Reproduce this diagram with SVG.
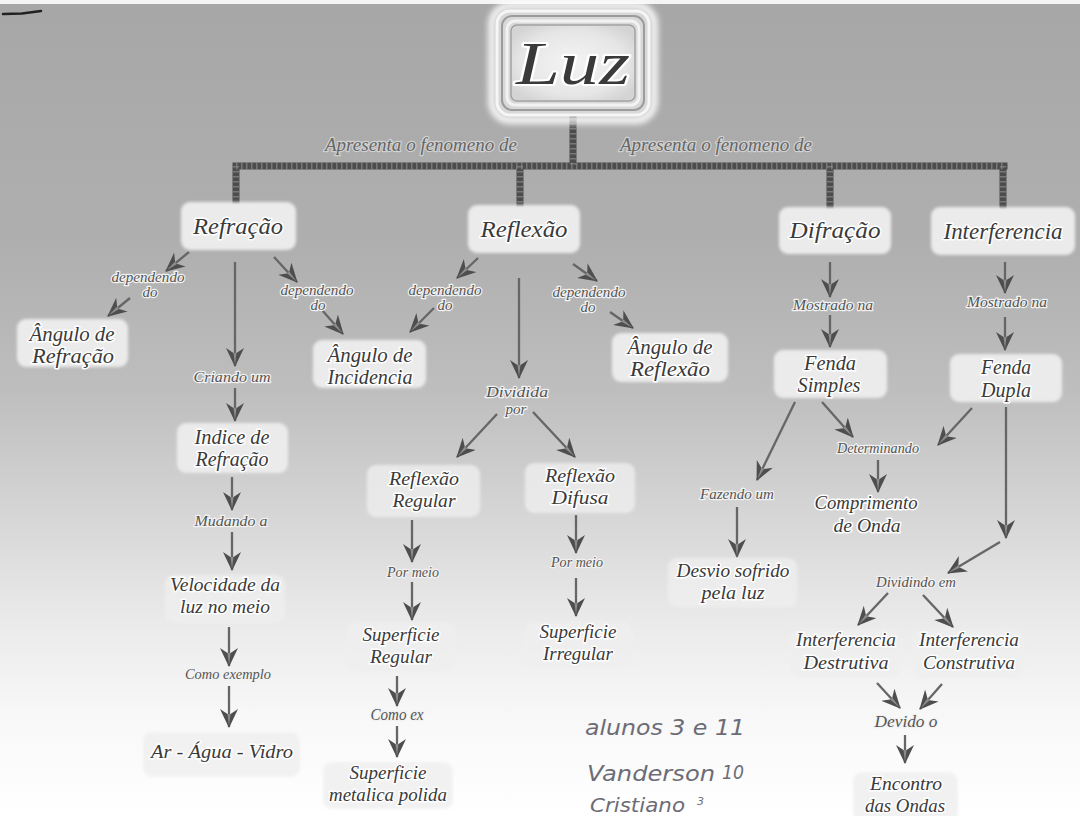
<svg xmlns="http://www.w3.org/2000/svg" width="1080" height="816" viewBox="0 0 1080 816">
  <defs>
    <linearGradient id="bg" x1="0" y1="0" x2="0" y2="1">
      <stop offset="0" stop-color="#a7a7a7"/>
      <stop offset="0.30" stop-color="#afafaf"/>
      <stop offset="0.48" stop-color="#bebebe"/>
      <stop offset="0.62" stop-color="#d4d4d4"/>
      <stop offset="0.76" stop-color="#eaeaea"/>
      <stop offset="0.88" stop-color="#f8f8f8"/>
      <stop offset="1" stop-color="#ffffff"/>
    </linearGradient>
    <radialGradient id="luzFill" cx="0.5" cy="0.5" r="0.6">
      <stop offset="0" stop-color="#f4f4f4"/>
      <stop offset="0.7" stop-color="#e6e6e6"/>
      <stop offset="1" stop-color="#d4d4d4"/>
    </radialGradient>
    <filter id="soft" x="-10%" y="-10%" width="120%" height="120%">
      <feGaussianBlur stdDeviation="1.4"/>
    </filter>
    <filter id="glow" x="-20%" y="-20%" width="140%" height="140%">
      <feGaussianBlur stdDeviation="3"/>
    </filter>
    <marker id="arrow" markerUnits="userSpaceOnUse" markerWidth="22" markerHeight="20" refX="18" refY="9" orient="auto">
      <path d="M0,0 L19,9 L0,18 L6,9 Z" fill="#4e4e4e"/>
      <path d="M5,7.5 L17,9 L5,10.5 Z" fill="#8c8c8c"/>
    </marker>
    <style>
      .box { fill: #ebebeb; filter: url(#soft); }
      .boxFaint { fill: #efefef; filter: url(#soft); opacity: 0.8; }
      .node { font-family: "Liberation Serif", serif; font-style: italic; fill: #3a3a3a;
              stroke: #ffffff; stroke-width: 3; stroke-linejoin: round; paint-order: stroke; text-anchor: middle; }
      .big { font-size: 24px; }
      .mid { font-size: 20px; }
      .sm { font-size: 19px; }
      .link { font-family: "Liberation Serif", serif; font-style: italic; font-size: 15px; fill: #555555;
              stroke: #f2f2f2; stroke-width: 2.4; stroke-linejoin: round; paint-order: stroke; text-anchor: middle; }
      .top { font-size: 19px; fill: #666666; stroke: #d2d2d2; }
      .edge { stroke: #666666; stroke-width: 2.3; fill: none; marker-end: url(#arrow); }
      .bar { stroke: #4c4c4c; fill: none; stroke-linecap: square; }
      .barTex { stroke: #8c8c8c; fill: none; stroke-dasharray: 1.5 3.5; opacity: 0.7; }
      .hand { font-family: "DejaVu Sans", sans-serif; font-style: italic; font-weight: 200; fill: #6c6c76; }
    </style>
  </defs>

  <!-- paper background -->
  <rect x="0" y="0" width="1080" height="816" fill="url(#bg)"/>
  <rect x="0" y="0" width="1080" height="4" fill="#f4f4f4"/>
  <path d="M3,14 L22,13.5 L41,11" stroke="#222222" stroke-width="2.5" fill="none" stroke-linecap="round"/>

  <!-- connectors -->
  <g id="connectors">
    <!-- main tree from Luz -->
    <path class="bar" stroke-width="7" d="M573,118 V166 M236,166 H1004 M236,166 V201 M520,166 V204 M830,166 V206 M1003,166 V206"/>
    <path class="barTex" stroke-width="7" d="M236,166 H1004"/>
    <path class="barTex" stroke-width="6" d="M573,118 V166 M236,166 V201 M520,166 V204 M830,166 V206 M1003,166 V206"/>

    <!-- Refração -->
    <line class="edge" x1="189" y1="252" x2="166" y2="271"/>
    <line class="edge" x1="130" y1="298" x2="108" y2="316"/>
    <line class="edge" x1="274" y1="257" x2="297" y2="282"/>
    <line class="edge" x1="322" y1="310" x2="343" y2="334"/>
    <line class="edge" x1="235" y1="262" x2="235" y2="366"/>
    <line class="edge" x1="235" y1="388" x2="235" y2="421"/>
    <line class="edge" x1="232" y1="477" x2="232" y2="510"/>
    <line class="edge" x1="232" y1="532" x2="232" y2="570"/>
    <line class="edge" x1="229" y1="627" x2="229" y2="666"/>
    <line class="edge" x1="229" y1="686" x2="229" y2="727"/>

    <!-- Reflexão -->
    <line class="edge" x1="478" y1="258" x2="457" y2="278"/>
    <line class="edge" x1="434" y1="308" x2="410" y2="332"/>
    <line class="edge" x1="573" y1="264" x2="597" y2="281"/>
    <line class="edge" x1="610" y1="312" x2="633" y2="328"/>
    <line class="edge" x1="519" y1="278" x2="519" y2="378"/>
    <line class="edge" x1="497" y1="414" x2="457" y2="457"/>
    <line class="edge" x1="533" y1="412" x2="575" y2="457"/>
    <line class="edge" x1="412" y1="520" x2="412" y2="562"/>
    <line class="edge" x1="412" y1="582" x2="412" y2="620"/>
    <line class="edge" x1="397" y1="676" x2="397" y2="706"/>
    <line class="edge" x1="397" y1="726" x2="397" y2="757"/>
    <line class="edge" x1="576" y1="515" x2="576" y2="553"/>
    <line class="edge" x1="576" y1="578" x2="576" y2="616"/>

    <!-- Difração -->
    <line class="edge" x1="830" y1="262" x2="830" y2="297"/>
    <line class="edge" x1="830" y1="315" x2="830" y2="347"/>
    <line class="edge" x1="795" y1="402" x2="757" y2="480"/>
    <line class="edge" x1="737" y1="507" x2="737" y2="557"/>
    <line class="edge" x1="822" y1="402" x2="853" y2="437"/>
    <line class="edge" x1="972" y1="408" x2="938" y2="445"/>
    <line class="edge" x1="878" y1="460" x2="878" y2="492"/>

    <!-- Interferencia -->
    <line class="edge" x1="1005" y1="262" x2="1005" y2="293"/>
    <line class="edge" x1="1005" y1="317" x2="1005" y2="350"/>
    <line class="edge" x1="1006" y1="407" x2="1006" y2="538"/>
    <line class="edge" x1="1000" y1="542" x2="948" y2="573"/>
    <line class="edge" x1="888" y1="593" x2="858" y2="625"/>
    <line class="edge" x1="923" y1="595" x2="953" y2="627"/>
    <line class="edge" x1="877" y1="683" x2="900" y2="708"/>
    <line class="edge" x1="942" y1="684" x2="920" y2="709"/>
    <line class="edge" x1="905" y1="735" x2="905" y2="763"/>
  </g>

  <!-- linking phrases -->
  <g id="links">
    <text class="link top" x="421" y="151" textLength="192" lengthAdjust="spacingAndGlyphs">Apresenta o fenomeno de</text>
    <text class="link top" x="716" y="151" textLength="192" lengthAdjust="spacingAndGlyphs">Apresenta o fenomeno de</text>

    <text class="link" x="148" y="282" textLength="73" lengthAdjust="spacingAndGlyphs">dependendo</text>
    <text class="link" x="150" y="297">do</text>
    <text class="link" x="317" y="295" textLength="73" lengthAdjust="spacingAndGlyphs">dependendo</text>
    <text class="link" x="318" y="310">do</text>
    <text class="link" x="232" y="382" textLength="77" lengthAdjust="spacingAndGlyphs">Criando um</text>
    <text class="link" x="231" y="526" textLength="73" lengthAdjust="spacingAndGlyphs">Mudando a</text>
    <text class="link" x="228" y="679" textLength="86" lengthAdjust="spacingAndGlyphs">Como exemplo</text>

    <text class="link" x="445" y="295" textLength="73" lengthAdjust="spacingAndGlyphs">dependendo</text>
    <text class="link" x="445" y="310">do</text>
    <text class="link" x="589" y="297" textLength="73" lengthAdjust="spacingAndGlyphs">dependendo</text>
    <text class="link" x="588" y="312">do</text>
    <text class="link" x="517" y="397" textLength="62" lengthAdjust="spacingAndGlyphs">Dividida</text>
    <text class="link" x="516" y="414">por</text>
    <text class="link" x="413" y="577" textLength="52" lengthAdjust="spacingAndGlyphs">Por meio</text>
    <text class="link" x="577" y="567" textLength="52" lengthAdjust="spacingAndGlyphs">Por meio</text>
    <text class="link" x="397" y="720" style="font-size:17px" textLength="53" lengthAdjust="spacingAndGlyphs">Como ex</text>

    <text class="link" x="833" y="310" textLength="80" lengthAdjust="spacingAndGlyphs">Mostrado na</text>
    <text class="link" x="1007" y="307" textLength="80" lengthAdjust="spacingAndGlyphs">Mostrado na</text>
    <text class="link" x="878" y="453" textLength="82" lengthAdjust="spacingAndGlyphs">Determinando</text>
    <text class="link" x="737" y="499" textLength="74" lengthAdjust="spacingAndGlyphs">Fazendo um</text>
    <text class="link" x="916" y="587" textLength="80" lengthAdjust="spacingAndGlyphs">Dividindo em</text>
    <text class="link" x="906" y="727" style="font-size:17px" textLength="63" lengthAdjust="spacingAndGlyphs">Devido o</text>
  </g>

  <!-- root concept -->
  <g id="luz">
    <rect x="492" y="6" width="162" height="114" rx="18" fill="none" stroke="#ffffff" stroke-width="7" filter="url(#glow)"/>
    <rect x="497" y="11" width="152" height="104" rx="13" fill="#d8d8d8" stroke="#f6f6f6" stroke-width="3"/>
    <rect x="502" y="16" width="142" height="94" rx="10" fill="none" stroke="#9c9c9c" stroke-width="2"/>
    <rect x="507" y="21" width="132" height="84" rx="8" fill="none" stroke="#f2f2f2" stroke-width="3"/>
    <rect x="511" y="25" width="124" height="76" rx="6" fill="url(#luzFill)" stroke="#a2a2a2" stroke-width="1.5"/>
    <text class="node" x="573" y="84" style="font-size:62px; stroke-width:4" textLength="114" lengthAdjust="spacingAndGlyphs">Luz</text>
  </g>

  <!-- first level -->
  <g id="refracao">
    <rect class="box" x="181" y="202" width="115" height="48" rx="9"/>
    <text class="node big" x="238" y="234" textLength="90" lengthAdjust="spacingAndGlyphs">Refração</text>
  </g>
  <g id="reflexao">
    <rect class="box" x="468" y="205" width="112" height="48" rx="9"/>
    <text class="node big" x="524" y="237" textLength="87" lengthAdjust="spacingAndGlyphs">Reflexão</text>
  </g>
  <g id="difracao">
    <rect class="box" x="779" y="207" width="112" height="47" rx="9"/>
    <text class="node big" x="835" y="238" textLength="91" lengthAdjust="spacingAndGlyphs">Difração</text>
  </g>
  <g id="interferencia">
    <rect class="box" x="931" y="207" width="144" height="48" rx="9"/>
    <text class="node big" x="1003" y="239" textLength="119" lengthAdjust="spacingAndGlyphs">Interferencia</text>
  </g>

  <!-- second level -->
  <g id="angulo-refracao">
    <rect class="box" x="17" y="319" width="111" height="48" rx="9"/>
    <text class="node mid" x="72" y="341" textLength="85" lengthAdjust="spacingAndGlyphs">Ângulo de</text>
    <text class="node mid" x="73" y="363" textLength="82" lengthAdjust="spacingAndGlyphs">Refração</text>
  </g>
  <g id="angulo-incidencia">
    <rect class="box" x="313" y="340" width="113" height="48" rx="9"/>
    <text class="node mid" x="370" y="362" textLength="85" lengthAdjust="spacingAndGlyphs">Ângulo de</text>
    <text class="node mid" x="370" y="384" textLength="85" lengthAdjust="spacingAndGlyphs">Incidencia</text>
  </g>
  <g id="angulo-reflexao">
    <rect class="box" x="612" y="333" width="116" height="49" rx="9"/>
    <text class="node mid" x="670" y="354" textLength="85" lengthAdjust="spacingAndGlyphs">Ângulo de</text>
    <text class="node mid" x="670" y="376" textLength="80" lengthAdjust="spacingAndGlyphs">Reflexão</text>
  </g>
  <g id="fenda-simples">
    <rect class="box" x="774" y="350" width="113" height="48" rx="9"/>
    <text class="node mid" x="830" y="370" textLength="52" lengthAdjust="spacingAndGlyphs">Fenda</text>
    <text class="node mid" x="829" y="392" textLength="63" lengthAdjust="spacingAndGlyphs">Simples</text>
  </g>
  <g id="fenda-dupla">
    <rect class="box" x="950" y="354" width="112" height="48" rx="9"/>
    <text class="node mid" x="1006" y="374" textLength="50" lengthAdjust="spacingAndGlyphs">Fenda</text>
    <text class="node mid" x="1006" y="397" textLength="50" lengthAdjust="spacingAndGlyphs">Dupla</text>
  </g>

  <!-- third level -->
  <g id="indice-refracao">
    <rect class="box" x="177" y="423" width="111" height="50" rx="9"/>
    <text class="node mid" x="232" y="444" textLength="75" lengthAdjust="spacingAndGlyphs">Indice de</text>
    <text class="node mid" x="232" y="466" textLength="73" lengthAdjust="spacingAndGlyphs">Refração</text>
  </g>
  <g id="reflexao-regular">
    <rect class="boxFaint" x="367" y="465" width="113" height="52" rx="9"/>
    <text class="node sm" x="424" y="485" textLength="70" lengthAdjust="spacingAndGlyphs">Reflexão</text>
    <text class="node sm" x="424" y="507" textLength="63" lengthAdjust="spacingAndGlyphs">Regular</text>
  </g>
  <g id="reflexao-difusa">
    <rect class="boxFaint" x="525" y="463" width="110" height="50" rx="9"/>
    <text class="node sm" x="580" y="482" textLength="70" lengthAdjust="spacingAndGlyphs">Reflexão</text>
    <text class="node sm" x="580" y="504" textLength="57" lengthAdjust="spacingAndGlyphs">Difusa</text>
  </g>
  <g id="comprimento-onda">
    <text class="node sm" x="866" y="509" textLength="103" lengthAdjust="spacingAndGlyphs">Comprimento</text>
    <text class="node sm" x="867" y="532" textLength="67" lengthAdjust="spacingAndGlyphs">de Onda</text>
  </g>
  <g id="desvio">
    <rect class="boxFaint" x="668" y="558" width="129" height="49" rx="9"/>
    <text class="node sm" x="733" y="577" textLength="113" lengthAdjust="spacingAndGlyphs">Desvio sofrido</text>
    <text class="node sm" x="733" y="599" textLength="63" lengthAdjust="spacingAndGlyphs">pela luz</text>
  </g>
  <g id="velocidade">
    <rect class="boxFaint" x="165" y="575" width="120" height="47" rx="9"/>
    <text class="node sm" x="225" y="591" textLength="110" lengthAdjust="spacingAndGlyphs">Velocidade da</text>
    <text class="node sm" x="225" y="613" textLength="90" lengthAdjust="spacingAndGlyphs">luz no meio</text>
  </g>
  <g id="superficie-regular">
    <rect class="boxFaint" x="347" y="623" width="108" height="49" rx="9"/>
    <text class="node sm" x="401" y="641" textLength="77" lengthAdjust="spacingAndGlyphs">Superficie</text>
    <text class="node sm" x="401" y="663" textLength="62" lengthAdjust="spacingAndGlyphs">Regular</text>
  </g>
  <g id="superficie-irregular">
    <rect class="boxFaint" x="525" y="622" width="107" height="46" rx="9"/>
    <text class="node sm" x="578" y="638" textLength="77" lengthAdjust="spacingAndGlyphs">Superficie</text>
    <text class="node sm" x="578" y="660" textLength="70" lengthAdjust="spacingAndGlyphs">Irregular</text>
  </g>
  <g id="interferencia-destrutiva">
    <rect class="boxFaint" x="790" y="630" width="110" height="48" rx="9"/>
    <text class="node sm" x="846" y="646" textLength="100" lengthAdjust="spacingAndGlyphs">Interferencia</text>
    <text class="node sm" x="846" y="669" textLength="85" lengthAdjust="spacingAndGlyphs">Destrutiva</text>
  </g>
  <g id="interferencia-construtiva">
    <rect class="boxFaint" x="913" y="630" width="110" height="49" rx="9"/>
    <text class="node sm" x="969" y="646" textLength="100" lengthAdjust="spacingAndGlyphs">Interferencia</text>
    <text class="node sm" x="969" y="669" textLength="92" lengthAdjust="spacingAndGlyphs">Construtiva</text>
  </g>
  <g id="ar-agua-vidro">
    <rect class="boxFaint" x="143" y="732" width="157" height="45" rx="9"/>
    <text class="node sm" x="222" y="758" textLength="142" lengthAdjust="spacingAndGlyphs">Ar - Água - Vidro</text>
  </g>
  <g id="superficie-metalica">
    <rect class="boxFaint" x="323" y="762" width="130" height="47" rx="9"/>
    <text class="node sm" x="388" y="779" textLength="77" lengthAdjust="spacingAndGlyphs">Superficie</text>
    <text class="node sm" x="388" y="801" textLength="118" lengthAdjust="spacingAndGlyphs">metalica polida</text>
  </g>
  <g id="encontro-ondas">
    <rect class="boxFaint" x="853" y="772" width="105" height="50" rx="9"/>
    <text class="node sm" x="906" y="790" textLength="72" lengthAdjust="spacingAndGlyphs">Encontro</text>
    <text class="node sm" x="905" y="812" textLength="80" lengthAdjust="spacingAndGlyphs">das Ondas</text>
  </g>

  <!-- pencil notes -->
  <g id="notes">
    <text class="hand" x="585" y="735" font-size="21" textLength="160" lengthAdjust="spacingAndGlyphs">alunos 3 e 11</text>
    <text class="hand" x="587" y="781" font-size="21" textLength="128" lengthAdjust="spacingAndGlyphs">Vanderson</text>
    <text class="hand" x="722" y="779" font-size="19" font-weight="700" textLength="22" lengthAdjust="spacingAndGlyphs">10</text>
    <text class="hand" x="590" y="812" font-size="19" textLength="95" lengthAdjust="spacingAndGlyphs">Cristiano</text>
    <text class="hand" x="697" y="805" font-size="11">3</text>
  </g>
</svg>
